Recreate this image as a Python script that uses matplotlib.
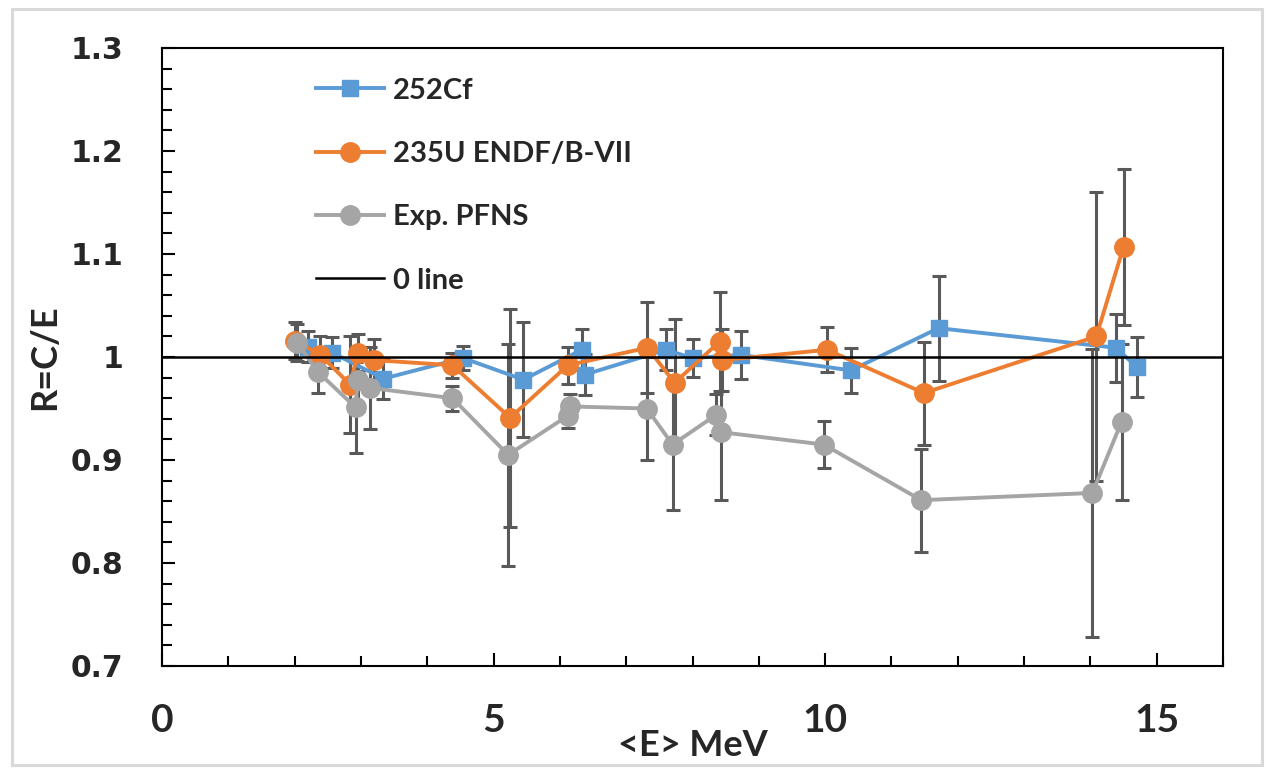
import matplotlib
matplotlib.use("Agg")
import matplotlib.pyplot as plt
import matplotlib.patches as mpatches
from matplotlib.lines import Line2D
from matplotlib.ticker import MultipleLocator, FuncFormatter

# 252Cf
cf_e = [2.2, 2.57, 3.34, 4.54, 5.45, 6.33, 6.38, 7.60, 8.00, 8.73, 10.39, 11.71, 14.38, 14.71]
cf_r = [1.010, 1.004, 0.979, 0.999, 0.978, 1.007, 0.983, 1.007, 0.999, 1.002, 0.987, 1.028, 1.009, 0.990]
cf_err = [0.015, 0.015, 0.020, 0.012, 0.056, 0.020, 0.020, 0.020, 0.018, 0.023, 0.022, 0.051, 0.033, 0.029]

# 235U ENDF/B-VII
u_e = [2.00, 2.39, 2.84, 2.95, 3.19, 4.38, 5.25, 6.12, 7.32, 7.73, 8.41, 8.45, 10.03, 11.49, 14.09, 14.50]
u_r = [1.016, 1.002, 0.973, 1.004, 0.997, 0.992, 0.941, 0.992, 1.009, 0.975, 1.015, 0.997, 1.007, 0.965, 1.020, 1.107]
u_err = [0.018, 0.018, 0.047, 0.018, 0.020, 0.012, 0.106, 0.018, 0.044, 0.062, 0.048, 0.030, 0.022, 0.050, 0.140, 0.076]

# Exp. PFNS
exp_e = [2.03, 2.36, 2.92, 2.95, 3.14, 4.38, 5.22, 6.12, 6.15, 7.31, 7.70, 8.36, 8.43, 9.98, 11.45, 14.03, 14.47]
exp_r = [1.014, 0.985, 0.951, 0.978, 0.970, 0.960, 0.905, 0.943, 0.952, 0.950, 0.915, 0.944, 0.927, 0.915, 0.861, 0.868, 0.937]
exp_err = [0.018, 0.020, 0.044, 0.030, 0.040, 0.012, 0.108, 0.012, 0.012, 0.050, 0.064, 0.020, 0.066, 0.023, 0.050, 0.140, 0.076]

labels = ["252Cf", "235U ENDF/B-VII", "Exp. PFNS", "0 line"]
colors = ["#5B9BD5", "#ED7D31", "#A5A5A5"]
err_color = "#595959"
text_color = "#262626"

fig = plt.figure(figsize=(12.73, 7.71), dpi=100)
ax = fig.add_axes([162 / 1273, 1 - 666 / 771, (1223 - 162) / 1273, (666 - 48) / 771])

# light grey frame round the whole picture
fig.patches.append(mpatches.Rectangle((12 / 1273, 6 / 771), 1250 / 1273, 756 / 771,
                                      transform=fig.transFigure, fill=False,
                                      edgecolor="#d9d9d9", linewidth=2.2))

series = [
    (cf_e, cf_r, cf_err, "s", 11),
    (u_e, u_r, u_err, "o", 14),
    (exp_e, exp_r, exp_err, "o", 14),
]
for i, (xe, yr, ye, mk, ms) in enumerate(series):
    ax.errorbar(xe, yr, yerr=ye, fmt="none", ecolor=err_color, elinewidth=2.2,
                capsize=4.8, capthick=2.2, zorder=2 + i * 0.1)
    ax.plot(xe, yr, color=colors[i], lw=2.8, marker=mk, ms=ms, mec=colors[i],
            zorder=3 + i)

ax.axhline(1.0, color="black", lw=1.8, zorder=8)

ax.set_xlim(0, 16)
ax.set_ylim(0.7, 1.3)
ax.xaxis.set_major_locator(MultipleLocator(5))
ax.xaxis.set_minor_locator(MultipleLocator(1))
ax.yaxis.set_major_locator(MultipleLocator(0.1))
ax.yaxis.set_minor_locator(MultipleLocator(0.02))
ax.yaxis.set_major_formatter(FuncFormatter(lambda v, p: "%g" % round(v, 2)))

for s in ax.spines.values():
    s.set_linewidth(1.5)
    s.set_color("black")

ax.tick_params(axis="both", which="both", direction="in", width=1.5, color="black",
               top=False, right=False)
ax.tick_params(axis="both", which="major", length=9.5)
ax.tick_params(axis="both", which="minor", length=7)
ax.tick_params(axis="y", which="major", pad=28, labelsize=21.5, labelcolor=text_color)
ax.tick_params(axis="x", which="major", pad=27, labelsize=28, labelcolor=text_color)
for t in ax.get_yticklabels():
    t.set_fontfamily("DejaVu Sans")
    t.set_fontweight("bold")
for t in ax.get_xticklabels():
    t.set_fontfamily("Lato")
    t.set_fontweight("bold")

ax.set_xlabel("<E> MeV", fontsize=26, fontfamily="Lato", fontweight="bold", color=text_color)
ax.xaxis.label.set_va("center")
ax.xaxis.set_label_coords(0.5, -0.128)
ax.set_ylabel("R=C/E", fontsize=26, fontfamily="Lato", fontweight="bold", color=text_color)
ax.yaxis.label.set_va("center")
ax.yaxis.set_label_coords(-(162 - 45) / 1061, 0.5)

handles = [
    Line2D([], [], color=colors[0], lw=2.8, marker="s", ms=11),
    Line2D([], [], color=colors[1], lw=2.8, marker="o", ms=14),
    Line2D([], [], color=colors[2], lw=2.8, marker="o", ms=14),
    Line2D([], [], color="black", lw=1.8),
]
leg = ax.legend(handles, labels, loc="upper left", bbox_to_anchor=(0.145, 0.952),
                frameon=False, borderpad=0, borderaxespad=0, handlelength=2.33,
                handletextpad=0.3, labelspacing=1.28,
                prop={"family": "Lato", "weight": "bold", "size": 21})
for t in leg.get_texts():
    t.set_color(text_color)

fig.savefig("out.png", dpi=100)
